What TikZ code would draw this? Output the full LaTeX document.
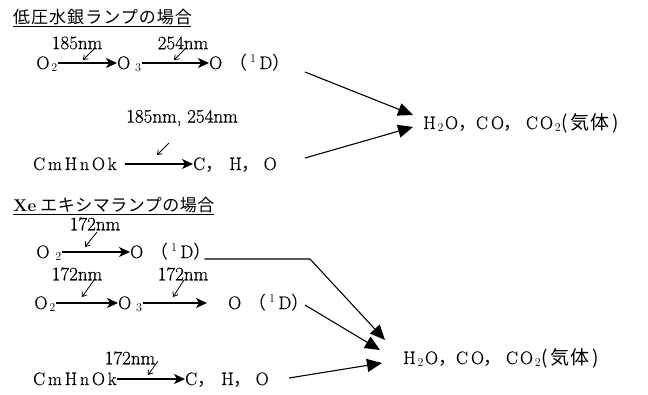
\documentclass[tikz,border=0pt]{standalone}
\usepackage{fontspec}
\setmainfont{Latin Modern Roman}
\newfontfamily\cjk{Noto Sans CJK JP}
\newfontfamily\lmthick[FakeBold=0.5]{Latin Modern Roman}
\usetikzlibrary{arrows.meta,calc}
\newcommand{\fw}[1]{{\cjk #1}}
\newcommand{\gaskitai}{{\cjk\fontsize{19}{20}\selectfont(\hspace{3pt}気\hspace{1pt}体\hspace{3pt})}}
\newcommand{\odee}{O\hspace{7pt}\fw{（}\hspace{3pt}$^1$\hspace{3pt}D\fw{）}}
\newcommand{\cmhnok}{C\hspace{2.8pt}m\hspace{2.8pt}H\hspace{2.8pt}n\hspace{2.8pt}O\hspace{2.8pt}k}
\newcommand{\chotxt}{C\fw{，}\hspace{6pt}H\fw{，}\hspace{4pt}O}
\newcommand{\prodtxt}{H\hspace{2pt}$_2$\hspace{1pt}O\fw{，}C\hspace{3pt}O\fw{，}\hspace{4pt}C\hspace{2pt}O\hspace{2pt}$_2$}
\tikzset{
  chem/.style={inner sep=0pt, font=\fontsize{18}{20}\selectfont\lmthick, text height=12pt, text depth=0pt},
  lbl/.style={inner sep=0pt, font=\fontsize{19}{21}\selectfont\lmthick},
  ttl/.style={inner sep=0pt, anchor=base west, font=\fontsize{17}{20}\selectfont},
  rxn/.style={line width=1.4pt, -{Stealth[length=11pt,width=10pt,inset=3pt]}},
  big/.style={line width=1.1pt, -{Triangle[length=15pt,width=13pt]}},
  hv/.style={line width=0.8pt, -{Straight Barb[length=4pt,width=6pt]}},
  uline/.style={line width=0.8pt},
}
\begin{document}
\begin{tikzpicture}[x=1pt,y=-1pt]
\useasboundingbox (0,0) rectangle (648,394);
% ---------- section 1 ----------
\node[ttl] (t1) at (13,23) {\cjk\addfontfeature{LetterSpace=6}低圧水銀ランプの場合};
\draw[uline] ($(t1.base west)+(0,3.5)$) -- ($(t1.base east)+(-1,3.5)$);

\node[lbl] (l1) at (77,43) {185nm};
\node[lbl] (l2) at (183,43) {254nm};
\node[chem, anchor=east] (a1) at (58,63) {O\hspace{2pt}$_2$};
\node[chem, anchor=west] (a2) at (117,63) {O\hspace{5pt}$_3$\hspace{4pt}};
\node[chem, anchor=west] (a3) at (209,63) {\odee};
\draw[rxn] (a1) -- (a2);
\draw[rxn] (a2) -- (a3);
\coordinate (s1) at (95,48);
\coordinate (s2) at (186,48);
\draw[hv] (s1) -- ++(-12,12);
\draw[hv] (s2) -- ++(-12,12);

\node[lbl] (l3) at (182,118) {185nm, 254nm};
\node[chem, anchor=west] (b1) at (33,164) {\cmhnok};
\node[chem, anchor=west] (b2) at (193,164) {\chotxt};
\draw[rxn, shorten <=8pt] (b1) -- (b2);
\coordinate (s3) at (169,143);
\draw[hv] (s3) -- ++(-12,12);

\node[chem, anchor=west] (p1) at (423,123) {\prodtxt\gaskitai};
\coordinate (e1) at (305,72);
\coordinate (e2) at (305,158);
\draw[big] (e1) -- ($(p1.west)+(-10,-8)$);
\draw[big] (e2) -- ($(p1.west)+(-10,4)$);

% ---------- section 2 ----------
\node[ttl] (t2) at (13,211) {\textbf{Xe}\hspace{4pt}{\cjk\addfontfeature{LetterSpace=3}エキシマランプの場合}};
\draw[uline] ($(t2.base west)+(0,3.5)$) -- ($(t2.base east)+(-1,3.5)$);

\node[lbl] (l4) at (95,224) {172nm};
\node[chem, anchor=east] (c1) at (62,252) {O\hspace{6pt}$_2$\hspace{2pt}};
\node[chem, anchor=west] (c2) at (130,252) {\odee};
\draw[rxn] (c1) -- (c2);
\coordinate (s4) at (97,232);
\draw[hv] (s4) -- ++(-12,15);

\node[lbl] (l5) at (77,274) {172nm};
\node[lbl] (l6) at (183,274) {172nm};
\node[chem, anchor=east] (d1) at (56,303) {O\hspace{2pt}$_2$};
\node[chem, anchor=west] (d2) at (118,303) {O\hspace{5pt}$_3$\hspace{4pt}};
\node[chem, anchor=west] (d3) at (228,303) {\odee};
\draw[rxn] (d1) -- (d2);
\draw[rxn, shorten >=21pt] (d2) -- (d3);
\coordinate (s5) at (94,280);
\coordinate (s6) at (184,280);
\draw[hv] (s5) -- ++(-12,17);
\draw[hv] (s6) -- ++(-11,17);

\node[lbl] (l7) at (130,358) {172nm};
\node[chem, anchor=west] (f1) at (33,379) {\cmhnok};
\node[chem, anchor=west] (f2) at (185,379) {\chotxt};
\draw[rxn] (f1) -- (f2);
\coordinate (s7) at (158,361);
\draw[hv] (s7) -- ++(-10,14);

\node[chem, anchor=west] (p2) at (403,358) {\prodtxt\gaskitai};
\coordinate (k1) at (310,259);
\path (c2.east |- k1) ++(-7,0) coordinate (k0);
\draw[big] (k0) -- (k1) -- ($(p2.west)+(-18,-18)$);
\coordinate (e3) at (305,305);
\draw[big] (e3) -- ($(p2.west)+(-23,-8)$);
\coordinate (e4) at (289,378);
\draw[big] (e4) -- ($(p2.west)+(-21,5)$);
\end{tikzpicture}
\end{document}
